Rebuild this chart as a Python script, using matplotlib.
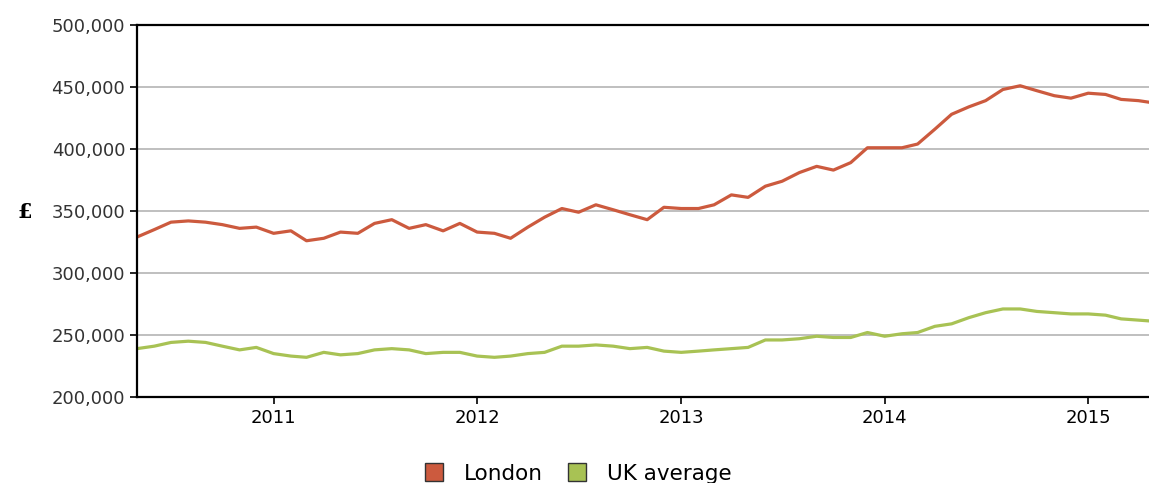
import matplotlib.pyplot as plt
import matplotlib.dates as mdates
from matplotlib.lines import Line2D
import pandas as pd

# monthly average price, May 2010 onwards (thousands of pounds)
months = pd.date_range('2010-05-01', periods=61, freq='MS')
london = [329, 335, 341, 342, 341, 339, 336, 337, 332, 334,
          326, 328, 333, 332, 340, 343, 336, 339, 334, 340,
          333, 332, 328, 337, 345, 352, 349, 355, 351, 347,
          343, 353, 352, 352, 355, 363, 361, 370, 374, 381,
          386, 383, 389, 401, 401, 401, 404, 416, 428, 434,
          439, 448, 451, 447, 443, 441, 445, 444, 440, 439, 437]
uk_average = [239, 241, 244, 245, 244, 241, 238, 240, 235, 233,
              232, 236, 234, 235, 238, 239, 238, 235, 236, 236,
              233, 232, 233, 235, 236, 241, 241, 242, 241, 239,
              240, 237, 236, 237, 238, 239, 240, 246, 246, 247,
              249, 248, 248, 252, 249, 251, 252, 257, 259, 264,
              268, 271, 271, 269, 268, 267, 267, 266, 263, 262, 261]
series_names = ['London', 'UK average']
colors = ['#cc5a3e', '#a8c254']

fig = plt.figure(figsize=(11.49, 4.83), dpi=100)
ax = fig.add_axes([137 / 1149, 1 - 397 / 483, 1 - 137 / 1149, 372 / 483])

ax.plot(months, [v * 1000 for v in london], color=colors[0], lw=2.3)
ax.plot(months, [v * 1000 for v in uk_average], color=colors[1], lw=2.3)

ax.set_ylim(200000, 500000)
ax.set_yticks(range(200000, 500001, 50000))
ax.yaxis.set_major_formatter(plt.FuncFormatter(lambda v, p: f'{int(v):,}'))
ax.set_xlim(pd.Timestamp('2010-05-01'), pd.Timestamp('2015-04-20'))
ax.xaxis.set_major_locator(mdates.YearLocator())
ax.xaxis.set_major_formatter(mdates.DateFormatter('%Y'))

ax.grid(axis='y', color='#b4b4b4', lw=1.2)
ax.set_axisbelow(True)
for s in ['left', 'bottom', 'top']:
    ax.spines[s].set_linewidth(1.6)
    ax.spines[s].set_color('black')
ax.spines['right'].set_visible(False)
ax.tick_params(axis='both', length=5, width=1.2, labelsize=13, colors='black')
for lab in ax.get_yticklabels():
    lab.set_color('#333333')

fig.text(25 / 1149, 1 - 212 / 483, '£', fontsize=15, fontweight='bold',
         family='DejaVu Serif', ha='center', va='center')

handles = [Line2D([], [], ls='none', marker='s', markersize=13, markerfacecolor=c,
                  markeredgecolor='#333333', markeredgewidth=1.0) for c in colors]
fig.legend(handles, series_names, loc='center', bbox_to_anchor=(572 / 1149, 1 - 474 / 483),
           ncol=2, frameon=False, fontsize=15.5, handletextpad=0.4, columnspacing=0.6,
           borderaxespad=0, borderpad=0)

fig.savefig('out.png', dpi=100)
